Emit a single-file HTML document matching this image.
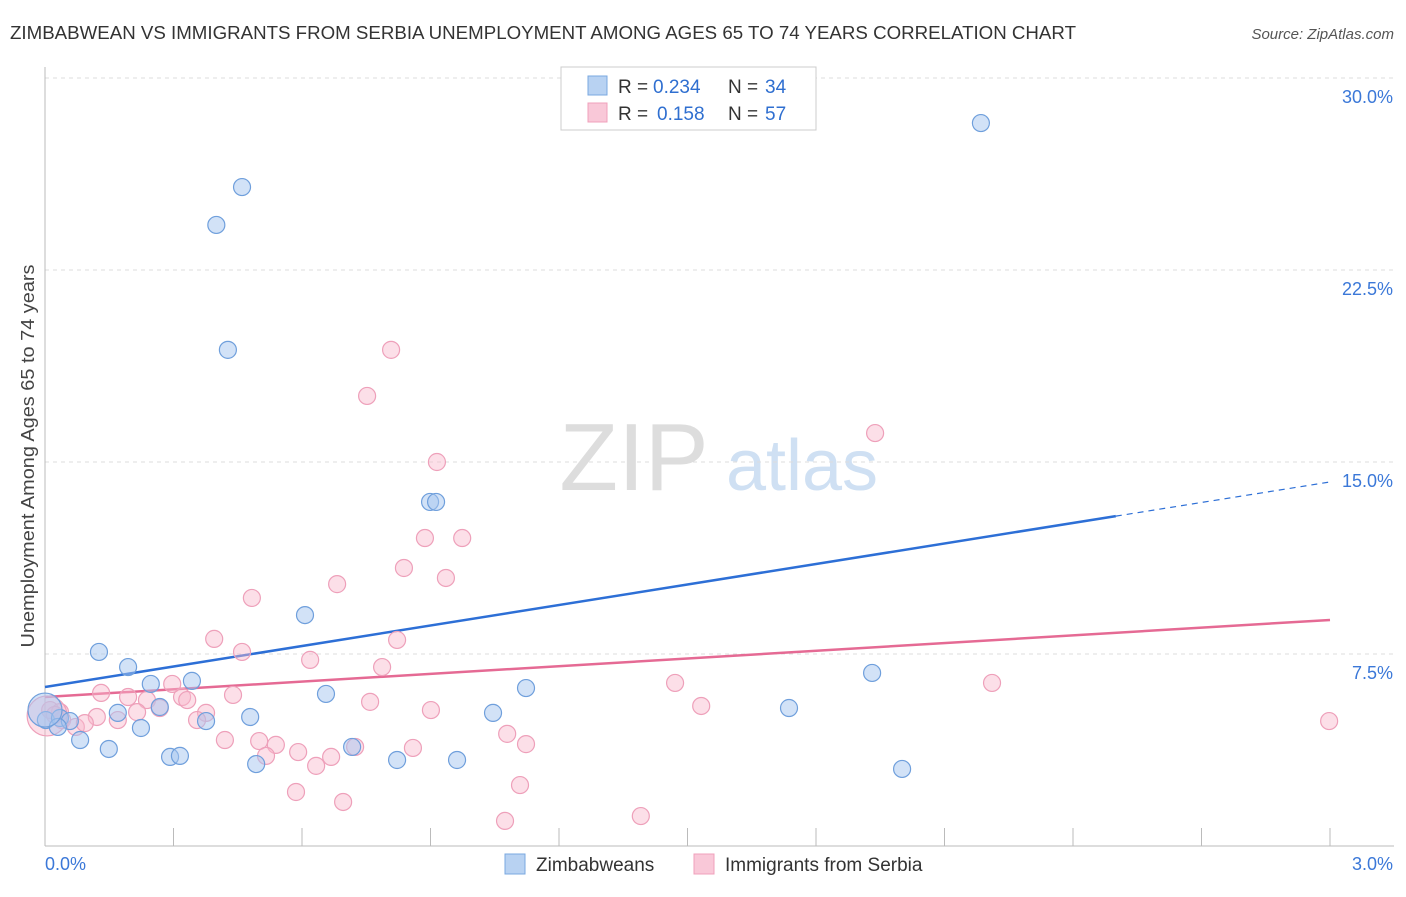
<!DOCTYPE html>
<html><head><meta charset="utf-8"><style>
body{margin:0;background:#fff;font-family:"Liberation Sans",sans-serif;}
svg text{font-family:"Liberation Sans",sans-serif;}
</style></head><body>
<svg id="chart" width="1406" height="892" xmlns="http://www.w3.org/2000/svg">
<text x="10" y="39" font-size="18" fill="#333" textLength="1066" lengthAdjust="spacingAndGlyphs">ZIMBABWEAN VS IMMIGRANTS FROM SERBIA UNEMPLOYMENT AMONG AGES 65 TO 74 YEARS CORRELATION CHART</text>
<text x="1394" y="39" font-size="15" fill="#555" text-anchor="end" font-style="italic">Source: ZipAtlas.com</text>
<g>
<text x="634" y="490" font-size="96" fill="#ddd" text-anchor="middle" font-family="Liberation Serif, serif">ZIP</text>
<text x="802" y="490" font-size="72" fill="#cfe0f3" text-anchor="middle">atlas</text>
</g>
<text transform="translate(34,456) rotate(-90)" font-size="18" fill="#444" text-anchor="middle" textLength="383" lengthAdjust="spacingAndGlyphs">Unemployment Among Ages 65 to 74 years</text>
<g id="grid"></g><g id="axes"></g><g id="trends"></g><g id="points"></g>
<g>
<rect x="561" y="67" width="255" height="63" fill="#fff" stroke="#ccc"/>
<rect x="588" y="76" width="19" height="19" fill="#b8d2f2" stroke="#7aa8e0"/>
<rect x="588" y="103" width="19" height="19" fill="#f9c8d8" stroke="#f0a0bb"/>
<text x="618" y="93" font-size="19" fill="#333">R =</text><text x="653" y="93" font-size="19" fill="#2f6fd0">0.234</text>
<text x="728" y="93" font-size="19" fill="#333">N =</text><text x="765" y="93" font-size="19" fill="#2f6fd0">34</text>
<text x="618" y="120" font-size="19" fill="#333">R =</text><text x="657" y="120" font-size="19" fill="#2f6fd0">0.158</text>
<text x="728" y="120" font-size="19" fill="#333">N =</text><text x="765" y="120" font-size="19" fill="#2f6fd0">57</text>
</g>
<g>
<rect x="505" y="854" width="20" height="20" fill="#b8d2f2" stroke="#7aa8e0"/>
<text x="536" y="871" font-size="19" fill="#333">Zimbabweans</text>
<rect x="694" y="854" width="20" height="20" fill="#f9c8d8" stroke="#f0a0bb"/>
<text x="725" y="871" font-size="19" fill="#333">Immigrants from Serbia</text>
</g>
</svg>
<script>
const xTicks=[0,0.3,0.6,0.9,1.2,1.5,1.8,2.1,2.4,2.7,3.0];
const yTicks=[7.5,15,22.5,30];
const yTickLabels=["7.5%","15.0%","22.5%","30.0%"];
const blueX=[2.185,0.46,0.40,0.427,0.899,0.913,0.607,0.126,0.194,0.247,0.343,1.931,1.123,0.656,0.170,0.268,0.479,0.376,0.224,0.002,0.035,0.058,0.149,0.082,0.292,0.315,0.493,0.717,0.822,0.962,1.046,1.737,2.001,0.030,0];
const blueY=[28.24,25.74,24.26,19.38,13.44,13.44,9.02,7.58,6.99,6.33,6.45,6.76,6.17,5.94,5.20,5.43,5.04,4.88,4.61,4.92,5.00,4.88,3.79,4.14,3.48,3.52,3.20,3.87,3.36,3.36,5.20,5.39,3.01,4.65,5.31];
const pinkX=[0.808,0.752,1.938,0.915,0.887,0.974,0.838,0.936,0.682,0.483,0.395,0.822,0.460,0.619,0.787,1.471,2.211,0.131,0.194,0.320,0.332,0.439,0.297,0.238,0.268,0.759,0.901,1.532,0.376,0.121,0.170,0.215,0.355,0.012,0.040,0.072,2.998,0.420,0.500,0.539,0.591,0.516,0.859,0.724,0.668,0.633,1.079,1.123,1.109,0.586,0.696,1.074,1.391,0.035,0.023,0.005,0.093];
const pinkY=[19.38,17.58,16.13,15.0,12.03,12.03,10.86,10.47,10.23,9.69,8.09,8.05,7.58,7.27,6.99,6.37,6.37,5.98,5.82,5.82,5.70,5.90,6.33,5.70,5.39,5.63,5.31,5.47,5.20,5.04,4.92,5.23,4.92,5.31,4.92,4.65,4.88,4.14,4.10,3.95,3.67,3.52,3.83,3.87,3.48,3.13,4.38,3.98,2.38,2.11,1.72,0.98,1.17,5.23,5.12,5.08,4.80];
const blueTrend=[6.21,14.22];
const pinkTrend=[5.82,8.83];
const blueSolidEnd=2.5;
const X=v=>45+v*428.33, Y=v=>846-v*25.6;
const NS="http://www.w3.org/2000/svg";
function mk(p,t,a){const e=document.createElementNS(NS,t);for(const k in a)e.setAttribute(k,a[k]);p.appendChild(e);return e;}
const grid=document.getElementById('grid'),axes=document.getElementById('axes'),tr=document.getElementById('trends'),pts=document.getElementById('points');
yTicks.forEach((v,i)=>{
 const l=mk(grid,'line',{x1:45,x2:1394,y1:Y(v),y2:Y(v),stroke:'#ddd','stroke-dasharray':'4,4'});
 
 
 const t=mk(axes,'text',{x:1393,y:Y(v)+25,'font-size':18,fill:'#3b78d8','text-anchor':'end'});t.textContent=yTickLabels[i];
 
 
});
const ax=mk(axes,'line',{x1:45,x2:45,y1:67,y2:846,stroke:'#bbb'});


const bx=mk(axes,'line',{x1:45,x2:1394,y1:846,y2:846,stroke:'#bbb'});


xTicks.forEach(v=>{const l=mk(axes,'line',{x1:X(v),x2:X(v),y1:828,y2:846,stroke:'#bbb'});
 
 });
const t0=mk(axes,'text',{x:45,y:870,'font-size':18,fill:'#3b78d8'});t0.textContent=xTicks[0].toFixed(1)+'%';


const t1=mk(axes,'text',{x:1393,y:870,'font-size':18,fill:'#3b78d8','text-anchor':'end'});t1.textContent=xTicks[xTicks.length-1].toFixed(1)+'%';


function pt(x,y,fill,stroke,r,name){const c=mk(pts,'circle',{cx:X(x),cy:Y(y),r:r,fill:fill,stroke:stroke,'stroke-width':1.2});
 
 }
pinkX.forEach((x,i)=>pt(x,pinkY[i],'rgba(248,185,205,0.45)','#eea0ba',i===55?20:8.5,'serbia-point'));
blueX.forEach((x,i)=>pt(x,blueY[i],'rgba(165,198,240,0.5)','#6f9fdc',i===34?17:8.5,'zimbabwean-point'));
const yb=v=>blueTrend[0]+(blueTrend[1]-blueTrend[0])*v/3;
const b1=mk(tr,'line',{x1:X(0),y1:Y(yb(0)),x2:X(blueSolidEnd),y2:Y(yb(blueSolidEnd)),stroke:'#2d6fd6','stroke-width':2.5});


const b2=mk(tr,'line',{x1:X(blueSolidEnd),y1:Y(yb(blueSolidEnd)),x2:X(3),y2:Y(yb(3)),stroke:'#2d6fd6','stroke-width':1.2,'stroke-dasharray':'6,5'});


const p1=mk(tr,'line',{x1:X(0),y1:Y(pinkTrend[0]),x2:X(3),y2:Y(pinkTrend[1]),stroke:'#e56a94','stroke-width':2.5});


</script>
</body></html>
